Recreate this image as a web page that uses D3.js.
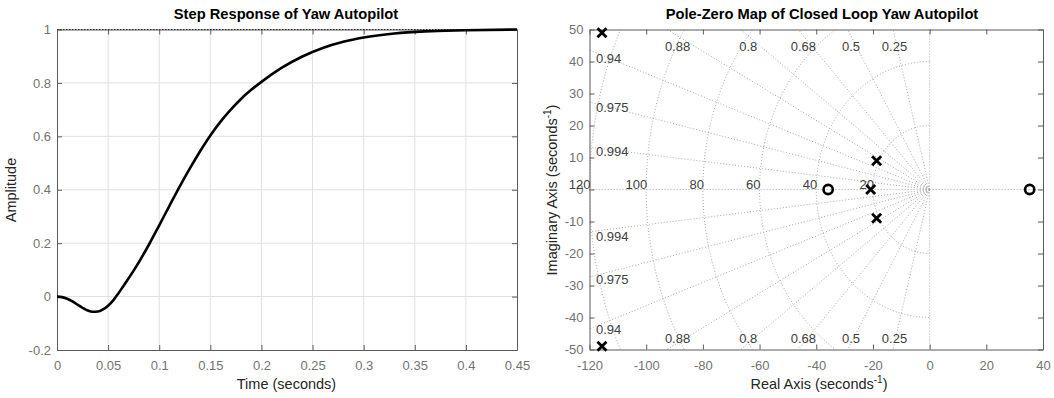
<!DOCTYPE html>
<html lang="en">
<head>
<meta charset="UTF-8">
<script src="https://d3js.org/d3.v7.min.js"></script>
<title>Yaw Autopilot</title>
<style>
    body { margin: 0; background: #fff; }
    svg text { font-family: "Liberation Sans", Arial, sans-serif; }
</style>
</head>
<body>
<div id="container"></div>
<script>
    // ---- step response ----
    const stepTime = [0, 0.005, 0.01, 0.015, 0.02, 0.025, 0.03, 0.035, 0.04, 0.045, 0.05, 0.055, 0.06, 0.065,
        0.075, 0.09, 0.1, 0.11, 0.12, 0.13, 0.14, 0.15, 0.16, 0.17, 0.18, 0.19, 0.2, 0.22, 0.24, 0.26, 0.28,
        0.3, 0.33, 0.36, 0.4, 0.45];
    const stepAmp = [0, -0.002, -0.008, -0.018, -0.03, -0.042, -0.052, -0.057, -0.056, -0.048, -0.034, -0.014, 0.012, 0.04,
        0.097, 0.195, 0.267, 0.34, 0.412, 0.48, 0.544, 0.603, 0.655, 0.7, 0.74, 0.774, 0.804, 0.857, 0.899, 0.931, 0.954,
        0.97, 0.985, 0.993, 0.997, 1.0];
    const stepXTicks = [0, 0.05, 0.1, 0.15, 0.2, 0.25, 0.3, 0.35, 0.4, 0.45];
    const stepYTicks = [-0.2, 0, 0.2, 0.4, 0.6, 0.8, 1];

    // ---- pole-zero map ----
    const poleRe = [-115.6, -115.6, -18.7, -18.7, -20.8];
    const poleIm = [49, -49, 9, -9, 0];
    const zeroRe = [-35.8, 35.3];
    const zeroIm = [0, 0];
    const dampingValues = [0.25, 0.5, 0.68, 0.8, 0.88, 0.94, 0.975, 0.994];
    const freqValues = [20, 40, 60, 80, 100, 120];
    const pzXTicks = [-120, -100, -80, -60, -40, -20, 0, 20, 40];
    const pzYTicks = [-50, -40, -30, -20, -10, 0, 10, 20, 30, 40, 50];

    const width = 1054, height = 398;
    const axisColor = '#5a5a5a';
    const tickText = '#737373';
    const labelColor = '#262626';
    const gridDot = '#a8a8a8';
    const fmt = d => String(+d.toFixed(3));

    const svg = d3.select('#container').append('svg')
        .attr('width', width).attr('height', height);

    function frame(g, x, y, xt, yt) {
        g.append('g').attr('transform', `translate(0,${y.range()[0]})`)
            .call(d3.axisBottom(x).tickValues(xt).tickFormat(fmt).tickSize(-5).tickSizeOuter(0).tickPadding(11));
        g.append('g').attr('transform', `translate(0,${y.range()[1]})`)
            .call(d3.axisTop(x).tickValues(xt).tickFormat('').tickSize(-5).tickSizeOuter(0));
        g.append('g').attr('transform', `translate(${x.range()[0]},0)`)
            .call(d3.axisLeft(y).tickValues(yt).tickFormat(fmt).tickSize(-5).tickSizeOuter(0).tickPadding(6));
        g.append('g').attr('transform', `translate(${x.range()[1]},0)`)
            .call(d3.axisRight(y).tickValues(yt).tickFormat('').tickSize(-5).tickSizeOuter(0));
        g.selectAll('.domain').attr('stroke', axisColor);
        g.selectAll('.tick line').attr('stroke', axisColor);
        g.selectAll('.tick text').attr('fill', tickText).style('font-size', '13px');
    }

    // ================= left: step response =================
    const x1 = d3.scaleLinear().domain([0, 0.45]).range([57, 517]);
    const y1 = d3.scaleLinear().domain([-0.2, 1]).range([350, 29.5]);
    const g1 = svg.append('g');

    g1.append('g').selectAll('line').data(stepXTicks.slice(1, -1)).enter().append('line')
        .attr('x1', d => x1(d)).attr('x2', d => x1(d))
        .attr('y1', y1.range()[0]).attr('y2', y1.range()[1])
        .attr('stroke', '#e0e0e0');
    g1.append('g').selectAll('line').data(stepYTicks.slice(1, -1)).enter().append('line')
        .attr('y1', d => y1(d)).attr('y2', d => y1(d))
        .attr('x1', x1.range()[0]).attr('x2', x1.range()[1])
        .attr('stroke', '#e0e0e0');

    frame(g1, x1, y1, stepXTicks, stepYTicks);

    // steady-state line
    g1.append('line')
        .attr('x1', x1(0)).attr('x2', x1(0.45)).attr('y1', y1(1)).attr('y2', y1(1))
        .attr('stroke', '#333').attr('stroke-dasharray', '1.5 1.5');

    const stepLine = d3.line()
        .x((d, i) => x1(stepTime[i]))
        .y(d => y1(d))
        .curve(d3.curveMonotoneX);
    g1.append('path').datum(stepAmp)
        .attr('d', stepLine)
        .attr('fill', 'none').attr('stroke', '#000').attr('stroke-width', 2.6);

    g1.append('text').attr('x', 286).attr('y', 18.5).attr('text-anchor', 'middle')
        .style('font-size', '14.7px').style('font-weight', 'bold').text('Step Response of Yaw Autopilot');
    g1.append('text').attr('x', 286.5).attr('y', 389).attr('text-anchor', 'middle')
        .attr('fill', labelColor).style('font-size', '14.5px').text('Time (seconds)');
    g1.append('text').attr('transform', 'translate(16,190) rotate(-90)').attr('text-anchor', 'middle')
        .attr('fill', labelColor).style('font-size', '14.5px').text('Amplitude');

    // ================= right: pole-zero map =================
    const x2 = d3.scaleLinear().domain([-120, 40]).range([589.5, 1043]);
    const y2 = d3.scaleLinear().domain([-50, 50]).range([349.5, 29.5]);
    const g2 = svg.append('g');

    svg.append('defs').append('clipPath').attr('id', 'pzclip').append('rect')
        .attr('x', x2.range()[0]).attr('y', y2.range()[1])
        .attr('width', x2.range()[1] - x2.range()[0]).attr('height', y2.range()[0] - y2.range()[1]);

    const grid = g2.append('g').attr('clip-path', 'url(#pzclip)')
        .attr('fill', 'none').attr('stroke', gridDot).attr('stroke-dasharray', '1 2');

    // damping rays, drawn from the origin outward
    const R = 300;
    dampingValues.forEach(z => {
        [1, -1].forEach(s => {
            grid.append('line')
                .attr('x1', x2(0)).attr('y1', y2(0))
                .attr('x2', x2(-z * R)).attr('y2', y2(s * Math.sqrt(1 - z * z) * R));
        });
    });
    grid.append('line').attr('x1', x2(0)).attr('y1', y2(0)).attr('x2', x2(-120)).attr('y2', y2(0));
    grid.append('line').attr('x1', x2(0)).attr('y1', y2(0)).attr('x2', x2(40)).attr('y2', y2(0));
    grid.append('line').attr('x1', x2(0)).attr('y1', y2(0)).attr('x2', x2(0)).attr('y2', y2(50));
    grid.append('line').attr('x1', x2(0)).attr('y1', y2(0)).attr('x2', x2(0)).attr('y2', y2(-50));

    // natural frequency arcs (left half plane)
    const angles = d3.range(90, 270.5, 1).map(a => a * Math.PI / 180);
    freqValues.forEach(w => {
        grid.append('path').attr('d', d3.line()
            .x(a => x2(w * Math.cos(a)))
            .y(a => y2(w * Math.sin(a)))(angles));
    });

    frame(g2, x2, y2, pzXTicks, pzYTicks);

    const lab = g2.append('g').attr('fill', '#404040').style('font-size', '13px');
    dampingValues.forEach(z => {
        const slope = Math.sqrt(1 - z * z) / z;
        if (48 / slope < 115.2) {
            const xr = -48 / slope;
            lab.append('text').attr('x', x2(xr)).attr('y', y2(48) + 10.5)
                .attr('text-anchor', 'middle').attr('dominant-baseline', 'central').text(fmt(z));
            lab.append('text').attr('x', x2(xr)).attr('y', y2(-48) - 4.5)
                .attr('text-anchor', 'middle').attr('dominant-baseline', 'central').text(fmt(z));
        } else {
            const yr = 115.2 * slope;
            lab.append('text').attr('x', 596).attr('y', y2(yr) + 2.5)
                .attr('dominant-baseline', 'central').text(fmt(z));
            lab.append('text').attr('x', 596).attr('y', y2(-yr) + 6)
                .attr('dominant-baseline', 'central').text(fmt(z));
        }
    });
    freqValues.forEach(w => {
        lab.append('text').attr('x', x2(-w) + 1).attr('y', y2(0) - 1)
            .attr('text-anchor', 'end').text(w);
    });

    // poles (x) and zeros (o)
    g2.append('g').selectAll('path').data(poleRe).enter().append('path')
        .attr('transform', (d, i) => `translate(${x2(d)},${y2(poleIm[i])})`)
        .attr('d', 'M-4.5,-4.5L4.5,4.5M-4.5,4.5L4.5,-4.5')
        .attr('stroke', '#000').attr('stroke-width', 2.8).attr('fill', 'none');
    g2.append('g').selectAll('circle').data(zeroRe).enter().append('circle')
        .attr('cx', d => x2(d)).attr('cy', (d, i) => y2(zeroIm[i])).attr('r', 4.6)
        .attr('stroke', '#000').attr('stroke-width', 2.6).attr('fill', 'none');

    g2.append('text').attr('x', 822).attr('y', 18.5).attr('text-anchor', 'middle')
        .style('font-size', '14.7px').style('font-weight', 'bold').text('Pole-Zero Map of Closed Loop Yaw Autopilot');

    const xl = g2.append('text').attr('x', 819).attr('y', 389).attr('text-anchor', 'middle')
        .attr('fill', labelColor).style('font-size', '14.5px');
    xl.append('tspan').text('Real Axis (seconds');
    xl.append('tspan').attr('dy', -6).style('font-size', '10px').text('-1');
    xl.append('tspan').attr('dy', 6).text(')');

    const yl = g2.append('text').attr('transform', 'translate(557,190) rotate(-90)').attr('text-anchor', 'middle')
        .attr('fill', labelColor).style('font-size', '14.5px');
    yl.append('tspan').text('Imaginary Axis (seconds');
    yl.append('tspan').attr('dy', -6).style('font-size', '10px').text('-1');
    yl.append('tspan').attr('dy', 6).text(')');
</script>
</body>
</html>
